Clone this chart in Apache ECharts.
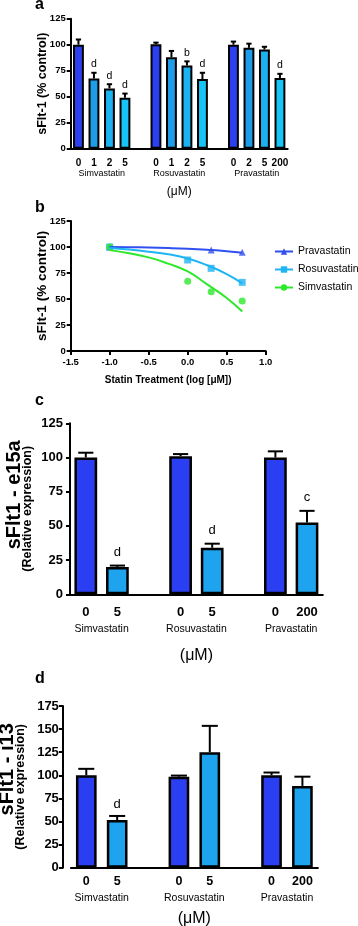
<!DOCTYPE html>
<html>
<head>
<meta charset="utf-8">
<script src="https://cdn.jsdelivr.net/npm/echarts@6/dist/echarts.min.js"></script>
<style>
    html, body { margin: 0; padding: 0; background: #fff; }
    #figure { width: 358px; height: 926px; }
</style>
</head>
<body>
<div id="figure"></div>
<script>
    // group names shared by the bar panels
    const groupNames = ['Simvastatin', 'Rosuvastatin', 'Pravastatin'];

    // panel a - sFlt-1 (% control), empty slot between groups
    const aDoses = ['0', '1', '2', '5', '', '0', '1', '2', '5', '', '0', '2', '5', '200'];
    const aMeans = [100, 67.5, 58, 49, null, 100.5, 88, 80, 67, null, 100, 97, 95.5, 68];
    const aErrTop = [105, 73, 62, 53, null, 102, 94, 84, 73, null, 103, 101, 98, 72];
    const aLetters = ['', 'd', 'd', 'd', '', '', '', 'b', 'd', '', '', '', '', 'd'];

    // panel b - dose response, log [uM]
    const pravX = [-1, 0.301, 0.699];
    const pravPts = [100, 97, 95];
    const rosX = [-1, 0, 0.301, 0.699];
    const rosPts = [100, 87.5, 79.5, 66];
    const simX = [-1, 0, 0.301, 0.699];
    const simPts = [100, 67, 57, 48];
    const fitX = [-1, -0.75, -0.5, -0.25, 0, 0.25, 0.5, 0.7];
    const pravFit = [100, 99.8, 99.5, 99, 98.3, 97.3, 96, 94.5];
    const rosFit = [99, 97.5, 95.5, 93, 89, 82.5, 74, 65];
    const simFit = [97, 94, 90, 84, 76.5, 64, 51, 38];

    // panel c - sFlt1-e15a
    const cdDoses = ['0', '5', '', '0', '5', '', '0', '200'];
    const cMeans = [100, 20, null, 101, 34, null, 100, 52.5];
    const cErrTop = [103.5, 21, null, 102.5, 37, null, 104.5, 61];
    const cLetters = ['', 'd', '', '', 'd', '', '', 'c'];

    // panel d - sFlt1-i13
    const dMeans = [100, 51.5, null, 98.5, 125, null, 100, 88.5];
    const dErrTop = [107, 56, null, 99.7, 153.5, null, 103, 98.5];
    const dLetters = ['', 'd', '', '', '', '', '', ''];

    const F = 'Liberation Sans';

    function colorA(i) {
        return ['#2b40f0', '#1f9ce8', '#1bb2f0', '#18c4f6'][i % 5];
    }
    function colorCD(i) {
        return i % 3 === 0 ? '#2b3ff2' : '#1ea3ef';
    }

    function barData(means, colorFn) {
        return means.map((v, i) => v == null ? '-' : {value: v, itemStyle: {color: colorFn(i)}});
    }
    function errData(means, tops) {
        return means.map((v, i) => v == null ? null : [i, v, tops[i]]).filter(Boolean);
    }
    function pairs(xs, ys) {
        return xs.map((x, i) => [x, ys[i]]);
    }

    // upward error bar with cap and the significance letter above it
    function errRender(letters, fs, gap, capFactor) {
        return function (params, api) {
            const i = api.value(0);
            const base = api.coord([i, api.value(1)]);
            const top = api.coord([i, api.value(2)]);
            const half = api.size([1, 0])[0] * capFactor;
            const st = {stroke: '#000', lineWidth: 2};
            return {
                type: 'group',
                children: [
                    {type: 'line', shape: {x1: base[0], y1: base[1], x2: top[0], y2: top[1]}, style: st},
                    {type: 'line', shape: {x1: top[0] - half, y1: top[1], x2: top[0] + half, y2: top[1]}, style: st},
                    {type: 'text', x: top[0], y: top[1] - gap,
                        style: {text: letters[i], fill: '#000', fontSize: fs, fontFamily: F, align: 'center', verticalAlign: 'bottom'}}
                ]
            };
        };
    }

    function catAxis(grid, labels, fs, margin, tickLen) {
        return {
            type: 'category', gridIndex: grid, data: labels, position: 'bottom',
            axisLine: {lineStyle: {color: '#000', width: 2}},
            axisTick: {alignWithLabel: true, length: tickLen, interval: (i, v) => v !== '', lineStyle: {color: '#000', width: 2}},
            axisLabel: {interval: 0, margin: margin, color: '#000', fontFamily: F, fontWeight: 'bold', fontSize: fs}
        };
    }

    function groupAxis(grid, n, centers, fs, margin, nameGap, nameSize) {
        return {
            type: 'value', gridIndex: grid, min: 0, max: n, position: 'bottom',
            axisLine: {show: false}, axisTick: {show: false}, splitLine: {show: false},
            axisLabel: {customValues: centers, formatter: v => groupNames[centers.indexOf(v)],
                margin: margin, fontSize: fs, fontFamily: F, color: '#000'},
            name: '(μM)', nameLocation: 'middle', nameGap: nameGap,
            nameTextStyle: {fontFamily: F, fontSize: nameSize, color: '#000'}
        };
    }

    function valY(grid, max, step, fs, margin, name, nameGap, nameStyle, offset) {
        return {
            type: 'value', gridIndex: grid, min: 0, max: max, interval: step, offset: offset || 0,
            axisLine: {show: true, onZero: false, lineStyle: {color: '#000', width: 2}},
            axisTick: {show: true, length: 4, lineStyle: {color: '#000', width: 2}},
            splitLine: {show: false},
            axisLabel: {margin: margin, color: '#000', fontFamily: F, fontWeight: 'bold', fontSize: fs},
            name: name, nameLocation: 'middle', nameGap: nameGap, nameRotate: 90, nameMoveOverlap: false,
            nameTextStyle: nameStyle
        };
    }

    function hiddenY(grid) {
        return {type: 'value', gridIndex: grid, show: false};
    }

    const gridA = {left: 70.7, top: 18.7, width: 217, height: 130, outerBoundsMode: 'none'};
    const gridB = {left: 70.7, top: 221, width: 195, height: 130, outerBoundsMode: 'none'};
    const gridC = {left: 70, top: 423.3, width: 252.8, height: 171, outerBoundsMode: 'none'};
    const gridD = {left: 70.85, top: 706, width: 247, height: 161.7, outerBoundsMode: 'none'};

    const twoLine = (size1, size2, shift) => ({
        fontFamily: F, color: '#000',
        rich: {
            t: {fontFamily: F, fontWeight: 'bold', fontSize: size1, color: '#000', lineHeight: 14, padding: [0, 0, 0, shift]},
            s: {fontFamily: F, fontWeight: 'bold', fontSize: size2, color: '#000', lineHeight: 12}
        }
    });

    const option = {
        backgroundColor: '#fff',
        animation: false,
        title: [
            {text: 'a', left: 35, top: -3, padding: 0, textStyle: {fontFamily: F, fontSize: 16, fontWeight: 'bold', color: '#000'}},
            {text: 'b', left: 35, top: 200, padding: 0, textStyle: {fontFamily: F, fontSize: 16, fontWeight: 'bold', color: '#000'}},
            {text: 'c', left: 35, top: 393, padding: 0, textStyle: {fontFamily: F, fontSize: 16, fontWeight: 'bold', color: '#000'}},
            {text: 'd', left: 35, top: 671, padding: 0, textStyle: {fontFamily: F, fontSize: 16, fontWeight: 'bold', color: '#000'}}
        ],
        legend: {
            data: ['Pravastatin', 'Rosuvastatin', 'Simvastatin'],
            orient: 'vertical', left: 274, top: 246, padding: 0,
            itemWidth: 18, itemHeight: 8, itemGap: 7,
            textStyle: {fontFamily: F, fontSize: 10.5, color: '#000'}
        },
        grid: [gridA, gridB, gridC, gridD, gridA, gridC, gridD],
        xAxis: [
            catAxis(0, aDoses, 10, 10, 4),
            {
                type: 'value', gridIndex: 1, min: -1.5, max: 1.0, interval: 0.5,
                axisLine: {show: true, onZero: false, lineStyle: {color: '#000', width: 2}},
                axisTick: {show: true, length: 4, lineStyle: {color: '#000', width: 2}},
                splitLine: {show: false},
                axisLabel: {margin: 6, color: '#000', fontFamily: F, fontWeight: 'bold', fontSize: 9.5, formatter: v => v.toFixed(1)},
                name: 'Statin Treatment (log [μM])', nameLocation: 'middle', nameGap: 24,
                nameTextStyle: {fontFamily: F, fontWeight: 'bold', fontSize: 10, color: '#000'}
            },
            catAxis(2, cdDoses, 13, 12, 5),
            catAxis(3, cdDoses, 12.5, 7, 4),
            groupAxis(4, 14, [2, 7, 12], 9, 20, 37, 12),
            groupAxis(5, 8, [1, 4, 7], 10.5, 29, 53, 16),
            groupAxis(6, 8, [1, 4, 7], 10.5, 25, 43, 16)
        ],
        yAxis: [
            valY(0, 125, 25, 9.5, 5, 'sFlt-1 (% control)', 22, {fontFamily: F, fontWeight: 'bold', fontSize: 12.5, color: '#000'}),
            valY(1, 125, 25, 9.5, 5, 'sFlt-1 (% control)', 21.5, {fontFamily: F, fontWeight: 'bold', fontSize: 13.5, color: '#000'}),
            valY(2, 125, 25, 13, 7, '{t|sFlt1 - e15a}\n{s|(Relative expression)}', 36.5, twoLine(20, 12.5, 28)),
            valY(3, 175, 25, 13, 4, '{t|sFlt1 - i13}\n{s|(Relative expression)}', 36, twoLine(20, 12.5, 35), 8),
            hiddenY(4), hiddenY(5), hiddenY(6)
        ],
        series: [
            // a
            {type: 'bar', xAxisIndex: 0, yAxisIndex: 0, data: barData(aMeans, colorA), barWidth: '70%',
                itemStyle: {borderColor: '#000', borderWidth: 2}},
            {type: 'custom', xAxisIndex: 0, yAxisIndex: 0, z: 3, renderItem: errRender(aLetters, 10.5, 3, 0.17), data: errData(aMeans, aErrTop)},
            // b fitted curves
            {name: 'Pravastatin', type: 'line', xAxisIndex: 1, yAxisIndex: 1, data: pairs(fitX, pravFit), smooth: true,
                symbol: 'triangle', symbolSize: 8, showSymbol: false, color: '#3050ef', lineStyle: {width: 2}},
            {name: 'Rosuvastatin', type: 'line', xAxisIndex: 1, yAxisIndex: 1, data: pairs(fitX, rosFit), smooth: true,
                symbol: 'rect', symbolSize: 8, showSymbol: false, color: '#1fb4f2', lineStyle: {width: 2}},
            {name: 'Simvastatin', type: 'line', xAxisIndex: 1, yAxisIndex: 1, data: pairs(fitX, simFit), smooth: true,
                symbol: 'circle', symbolSize: 8, showSymbol: false, color: '#2de82d', lineStyle: {width: 2}},
            // b points
            {name: 'Pravastatin', type: 'scatter', xAxisIndex: 1, yAxisIndex: 1, data: pairs(pravX, pravPts), symbol: 'triangle', symbolSize: 7, color: '#3050ef'},
            {name: 'Rosuvastatin', type: 'scatter', xAxisIndex: 1, yAxisIndex: 1, data: pairs(rosX, rosPts), symbol: 'rect', symbolSize: 7, color: '#1fb4f2'},
            {name: 'Simvastatin', type: 'scatter', xAxisIndex: 1, yAxisIndex: 1, data: pairs(simX, simPts), symbol: 'circle', symbolSize: 7, color: '#2de82d'},
            // c
            {type: 'bar', xAxisIndex: 2, yAxisIndex: 2, data: barData(cMeans, colorCD), barWidth: '72%',
                itemStyle: {borderColor: '#000', borderWidth: 2.5}},
            {type: 'custom', xAxisIndex: 2, yAxisIndex: 2, z: 3, renderItem: errRender(cLetters, 13, 7, 0.24), data: errData(cMeans, cErrTop)},
            // d
            {type: 'bar', xAxisIndex: 3, yAxisIndex: 3, data: barData(dMeans, colorCD), barWidth: '67%',
                itemStyle: {borderColor: '#000', borderWidth: 2.5}},
            {type: 'custom', xAxisIndex: 3, yAxisIndex: 3, z: 3, renderItem: errRender(dLetters, 13, 5, 0.26), data: errData(dMeans, dErrTop)}
        ]
    };

    const chart = echarts.init(document.getElementById('figure'));
    chart.setOption(option);
    window.addEventListener('resize', () => chart.resize());
</script>
</body>
</html>
